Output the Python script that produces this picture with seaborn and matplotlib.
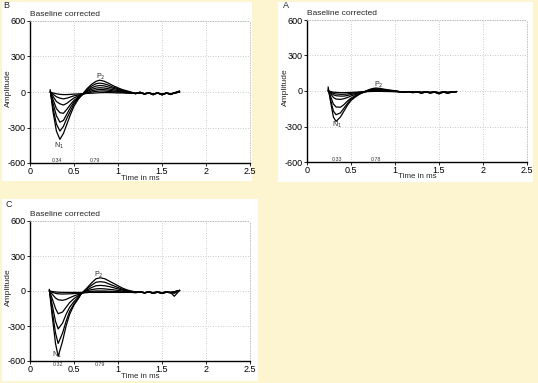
import numpy as np
import pandas as pd
import matplotlib.pyplot as plt
import seaborn as sns
from matplotlib.patches import Rectangle

sns.set_theme(style="white")
plt.rcParams['font.family'] = ['Liberation Sans', 'DejaVu Sans']

W, H = 538, 383

# time axis (ms) for each panel
time_b = [0.23, 0.26, 0.30, 0.34, 0.38, 0.42, 0.46, 0.50, 0.55, 0.60, 0.65, 0.70, 0.75, 0.79, 0.84, 0.89,
          0.94, 1.00, 1.05, 1.10, 1.15, 1.20, 1.25, 1.30, 1.35, 1.40, 1.45, 1.50, 1.55, 1.60, 1.65, 1.70]
time_a = [0.24, 0.27, 0.30, 0.33, 0.38, 0.42, 0.46, 0.50, 0.55, 0.60, 0.65, 0.70, 0.74, 0.78, 0.83, 0.88,
          0.94, 1.00, 1.05, 1.10, 1.15, 1.20, 1.25, 1.30, 1.35, 1.40, 1.45, 1.50, 1.55, 1.60, 1.65, 1.70]
time_c = [0.22, 0.25, 0.29, 0.32, 0.37, 0.41, 0.45, 0.50, 0.55, 0.58, 0.64, 0.70, 0.75, 0.80, 0.85, 0.90,
          0.95, 1.00, 1.05, 1.10, 1.15, 1.20, 1.25, 1.30, 1.35, 1.40, 1.45, 1.50, 1.55, 1.60, 1.64, 1.70]

# amplitude traces, B
b1 = [20, -160, -330, -400, -350, -270, -190, -120, -60, -15, 30, 65, 90, 100, 92, 75,
      55, 35, 20, 10, 0, -15, 0, -20, -5, -25, -5, -25, -10, -20, -5, 10]
b2 = [10, -130, -270, -330, -290, -220, -160, -100, -55, -18, 20, 50, 70, 75, 70, 58,
      42, 28, 15, 5, -5, -15, -2, -18, -8, -22, -5, -25, -8, -22, -5, 5]
b3 = [5, -90, -200, -255, -240, -185, -130, -85, -48, -20, 10, 35, 50, 55, 52, 42,
      32, 20, 10, 0, -8, -12, -5, -15, -8, -20, -8, -22, -10, -18, -5, 0]
b4 = [0, -60, -140, -175, -180, -145, -105, -70, -42, -20, 5, 22, 33, 36, 34, 28,
      20, 12, 5, -2, -8, -12, -5, -15, -10, -18, -8, -20, -10, -18, -5, 0]
b5 = [0, -35, -80, -100, -110, -95, -72, -50, -33, -20, -5, 10, 18, 22, 20, 16,
      10, 5, 0, -5, -8, -12, -6, -15, -8, -18, -10, -20, -8, -15, -8, 0]
b6 = [0, -18, -40, -52, -58, -52, -42, -32, -25, -18, -8, 0, 5, 8, 8, 5,
      2, 0, -3, -6, -8, -10, -6, -14, -8, -16, -10, -18, -10, -15, -8, 0]
b7 = [0, -8, -15, -20, -22, -22, -20, -18, -16, -14, -12, -10, -8, -6, -5, -5,
      -6, -8, -8, -10, -10, -12, -8, -14, -10, -15, -10, -16, -10, -14, -8, 0]

# amplitude traces, A
a1 = [35, -100, -220, -257, -220, -170, -120, -80, -50, -25, -5, 10, 20, 25, 22, 15,
      8, 2, -5, -10, -5, -15, -8, -20, -8, -18, -10, -25, -10, -20, -8, -5]
a2 = [20, -80, -170, -200, -185, -145, -105, -70, -45, -25, -8, 5, 15, 18, 16, 10,
      5, 0, -5, -10, -5, -12, -6, -18, -8, -15, -10, -22, -8, -18, -8, -5]
a3 = [10, -50, -110, -135, -137, -115, -85, -60, -40, -22, -10, 0, 8, 12, 10, 6,
      2, -2, -6, -8, -5, -12, -6, -15, -8, -15, -8, -20, -8, -15, -8, -5]
a4 = [5, -25, -55, -68, -71, -65, -55, -42, -30, -18, -8, 0, 5, 8, 6, 3,
      0, -3, -6, -8, -5, -10, -6, -14, -8, -14, -8, -18, -8, -14, -8, -5]
a5 = [0, -15, -32, -40, -43, -43, -38, -30, -22, -14, -6, 0, 3, 5, 4, 2,
      0, -3, -5, -8, -5, -10, -5, -12, -8, -13, -8, -16, -8, -12, -6, -5]
a6 = [0, -10, -20, -25, -28, -28, -25, -20, -15, -10, -5, -2, 0, 2, 2, 0,
      -2, -4, -6, -8, -5, -10, -6, -12, -8, -12, -8, -15, -8, -12, -6, -5]
a7 = [0, -5, -10, -12, -14, -14, -13, -12, -10, -8, -6, -5, -4, -3, -3, -4,
      -5, -6, -6, -8, -6, -9, -6, -11, -7, -11, -7, -13, -7, -11, -6, -5]

# amplitude traces, C
c1 = [15, -200, -450, -560, -430, -300, -200, -120, -65, -25, 20, 70, 105, 113, 105, 85,
      65, 45, 25, 10, 0, -8, -5, -15, -8, -20, -10, -20, -10, -15, -20, 5]
c2 = [10, -160, -360, -450, -360, -260, -175, -110, -60, -25, 15, 50, 75, 80, 75, 60,
      45, 30, 15, 5, -5, -10, -5, -18, -8, -20, -10, -22, -10, -15, -45, 5]
c3 = [5, -110, -260, -325, -275, -200, -140, -90, -52, -25, 5, 30, 45, 48, 45, 38,
      28, 18, 8, 0, -5, -10, -5, -15, -8, -18, -10, -20, -10, -15, -10, 5]
c4 = [0, -60, -150, -195, -180, -140, -100, -65, -40, -22, 0, 12, 18, 20, 18, 14,
      10, 5, 0, -5, -8, -10, -6, -15, -8, -15, -8, -18, -8, -14, -8, 5]
c5 = [0, -25, -60, -75, -80, -72, -58, -42, -30, -20, -8, -2, 0, 0, 0, -2,
      -4, -6, -8, -10, -8, -12, -8, -15, -8, -15, -8, -16, -8, -12, -8, 5]
c6 = [0, -10, -20, -24, -26, -25, -24, -22, -20, -18, -14, -10, -8, -8, -8, -8,
      -10, -10, -12, -12, -10, -14, -8, -15, -10, -14, -8, -15, -8, -12, -6, 5]
c7 = [0, -4, -8, -10, -12, -12, -12, -12, -12, -12, -12, -12, -12, -12, -12, -12,
      -12, -12, -12, -12, -12, -14, -10, -14, -10, -14, -10, -14, -10, -12, -8, 5]

x_ticks = [0, 0.5, 1, 1.5, 2, 2.5]
x_labels = ['0', '0.5', '1', '1.5', '2', '2.5']
y_ticks = [-600, -300, 0, 300, 600]
y_labels = ['-600', '-300', '0', '300', '600']


def to_long(time, traces):
    rows = []
    for k, tr in enumerate(traces):
        for t, v in zip(time, tr):
            rows.append((k, t, v))
    return pd.DataFrame(rows, columns=['trace', 'time', 'amp'])


panels = [
    dict(letter='B', df=to_long(time_b, [b1, b2, b3, b4, b5, b6, b7]),
         box=(2, 2, 252, 181), axbox=(30, 21, 250, 163), lpos=(3, 1),
         n1=(0.33, -455), p2=(0.80, 130), marks=[('0.34', 0.31), ('0.79', 0.74)],
         mark_y=-596, mark_va='bottom'),
    dict(letter='A', df=to_long(time_a, [a1, a2, a3, a4, a5, a6, a7]),
         box=(278, 2, 533, 182), axbox=(307, 20, 527, 162), lpos=(283, 1),
         n1=(0.34, -290), p2=(0.81, 50), marks=[('0.33', 0.34), ('0.78', 0.78)],
         mark_y=-596, mark_va='bottom'),
    dict(letter='C', df=to_long(time_c, [c1, c2, c3, c4, c5, c6, c7]),
         box=(2, 199, 258, 381), axbox=(30, 221, 250, 361), lpos=(6, 200),
         n1=(0.31, -545), p2=(0.78, 140), marks=[('0.32', 0.32), ('0.79', 0.79)],
         mark_y=-628, mark_va='center'),
]

fig = plt.figure(figsize=(W / 100, H / 100), dpi=100)
fig.patch.set_facecolor('#fdf5cf')

for p in panels:
    x0, y0, x1, y1 = p['box']
    fig.add_artist(Rectangle((x0 / W, 1 - y1 / H), (x1 - x0) / W, (y1 - y0) / H,
                             transform=fig.transFigure, facecolor='white',
                             edgecolor='none', zorder=0))
    l, t, r, b = p['axbox']
    ax = fig.add_axes([l / W, 1 - b / H, (r - l) / W, (b - t) / H])
    ax.set_facecolor('white')

    sns.lineplot(data=p['df'], x='time', y='amp', units='trace', estimator=None,
                 color='black', lw=0.9, ax=ax, legend=False)

    ax.set_xlim(0, 2.5)
    ax.set_ylim(-600, 600)
    ax.set_xticks(x_ticks)
    ax.set_xticklabels(x_labels)
    ax.set_yticks(y_ticks)
    ax.set_yticklabels(y_labels)
    ax.set_xlabel('')
    ax.set_ylabel('')
    ax.tick_params(labelsize=6.5, length=2, width=0.6, pad=1.2, colors='black',
                   bottom=True, left=True)
    ax.grid(True, ls=(0, (1, 2)), color='#bdbdbd', lw=0.6)

    for side in ['left', 'bottom']:
        ax.spines[side].set_color('black')
        ax.spines[side].set_linewidth(1.0)
    for side in ['top', 'right']:
        ax.spines[side].set_color('#bbbbbb')
        ax.spines[side].set_linewidth(0.6)
        ax.spines[side].set_linestyle((0, (1, 2)))

    ah = b - t
    ax.text(1.03 / 2.5, -11.5 / ah, 'Time in ms', transform=ax.transAxes,
            fontsize=5.8, va='top', ha='left')
    ax.text(-22 / (r - l), 0.53, 'Amplitude', transform=ax.transAxes,
            fontsize=6, rotation=90, va='center', ha='center')
    ax.text(0, 1 + 3 / ah, 'Baseline corrected', transform=ax.transAxes,
            fontsize=6, va='bottom', ha='left')

    ax.text(p['n1'][0], p['n1'][1], r'N$_1$', fontsize=5, ha='center', va='center')
    ax.text(p['p2'][0], p['p2'][1], r'P$_2$', fontsize=5, ha='center', va='center')
    for txt, xm in p['marks']:
        ax.text(xm, p['mark_y'], txt, fontsize=3.8, ha='center', va=p['mark_va'],
                color='#333333', clip_on=False)

    lx, ly = p['lpos']
    fig.text(lx / W, 1 - ly / H, p['letter'], fontsize=6.5, va='top', ha='left')

fig.savefig('out.png', dpi=100, facecolor=fig.get_facecolor())
